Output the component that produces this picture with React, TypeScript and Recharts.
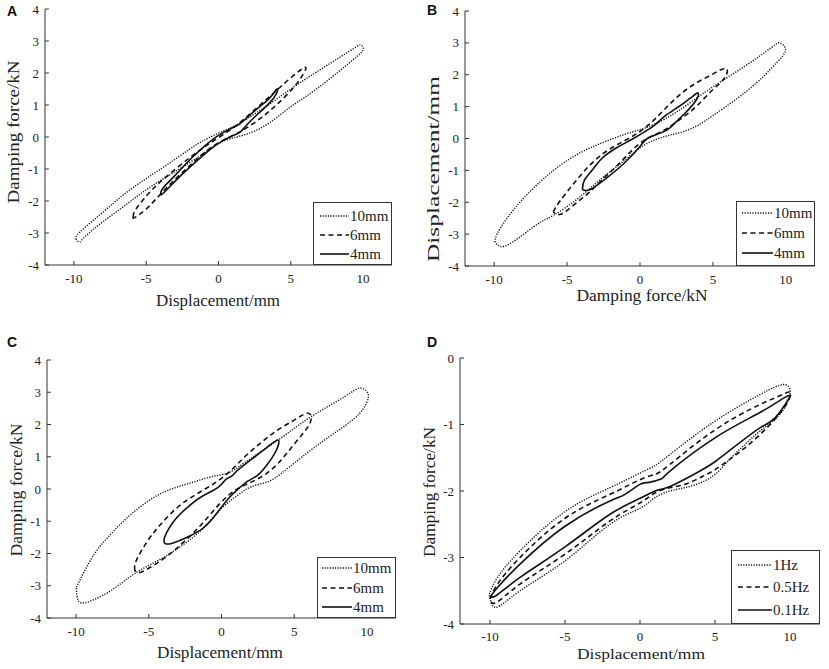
import React from 'react';
import { LineChart, Line, XAxis, YAxis } from 'recharts';

const SERIF = '"Liberation Serif", "Times New Roman", serif';
const SANS = '"Liberation Sans", Arial, sans-serif';
const INK = '#222';
const AXIS = '#333';

// ---------- shared ticks & labels ----------
const xTicks = [-10, -5, 0, 5, 10];
const yTicksABC = [-4, -3, -2, -1, 0, 1, 2, 3, 4];
const yTicksD = [-4, -3, -2, -1, 0];
const ampLabels = ['10mm', '6mm', '4mm'];
const freqLabels = ['1Hz', '0.5Hz', '0.1Hz'];

// ---------- Panel A (loops: upper branch left->right, lower branch right->left) ----------
const A_10mm = [[-9.85,-3.2],[-9.6,-2.98],[-8,-2.35],[-6.5,-1.78],[-5,-1.3],[-3.5,-0.85],[-2,-0.38],[-1,-0.1],[0,0.12],[1,0.32],[2,0.58],[3.5,1.02],[5,1.5],[6.5,1.95],[8,2.38],[9.3,2.75],[9.8,2.88],[10,2.8],[9.9,2.65],[9,2.3],[7.5,1.75],[6,1.25],[5,0.95],[4,0.6],[3,0.3],[2,0.1],[1,-0.03],[0,-0.2],[-1,-0.5],[-2,-0.8],[-3.5,-1.22],[-5,-1.65],[-6.5,-2.15],[-8,-2.65],[-9.2,-3.1],[-9.6,-3.28],[-9.85,-3.2]];
const A_6mm = [[-5.9,-2.5],[-5.7,-2.25],[-4.7,-1.7],[-3.5,-1.2],[-2,-0.65],[-1,-0.32],[0,-0.02],[1,0.28],[2,0.65],[3,1.05],[4,1.45],[5,1.85],[5.95,2.17],[5.9,2.0],[5.2,1.55],[4,1.0],[3,0.62],[2,0.3],[1,0.05],[0,-0.18],[-1,-0.5],[-2,-0.9],[-3,-1.32],[-4,-1.78],[-5,-2.25],[-5.8,-2.52],[-5.9,-2.5]];
const A_4mm = [[-4,-1.8],[-3.85,-1.6],[-3,-1.2],[-2,-0.72],[-1,-0.3],[0,0.05],[1,0.3],[1.5,0.42],[2.2,0.7],[3,1.0],[3.6,1.25],[4.05,1.5],[4,1.35],[3.5,1.05],[2.8,0.75],[2,0.4],[1.5,0.15],[1,0.05],[0,-0.2],[-1,-0.55],[-2,-0.95],[-3,-1.38],[-3.8,-1.75],[-4,-1.8]];

// ---------- Panel B ----------
const B_10mm = [[-9.95,-3.25],[-9.8,-3.0],[-9.1,-2.49],[-8,-1.88],[-6.8,-1.34],[-5.7,-0.92],[-4.5,-0.55],[-3.4,-0.29],[-2.3,-0.08],[-1.1,0.12],[0,0.28],[1,0.45],[2.6,0.86],[4.9,1.59],[7.2,2.27],[9,2.85],[9.6,3.0],[9.95,2.85],[9.8,2.6],[9,2.2],[8,1.75],[6.5,1.2],[5,0.72],[4,0.42],[3,0.22],[2,0.1],[1,-0.05],[0,-0.29],[-1.1,-0.7],[-2.3,-1.13],[-3.4,-1.55],[-4.5,-1.97],[-5.9,-2.4],[-6.8,-2.62],[-8,-3.01],[-9.3,-3.38],[-9.95,-3.25]];
const B_6mm = [[-5.95,-2.3],[-5.5,-1.97],[-4.5,-1.39],[-3.4,-0.82],[-2.3,-0.4],[-1.1,-0.08],[0,0.22],[1,0.6],[2.2,1.15],[3.5,1.64],[4.9,2.0],[5.9,2.2],[5.8,1.9],[4.9,1.49],[3.75,0.96],[2.6,0.55],[1.5,0.22],[0.5,0.0],[-0.5,-0.35],[-1.5,-0.82],[-2.5,-1.25],[-3.5,-1.7],[-4.5,-2.07],[-5.45,-2.38],[-5.95,-2.3]];
const B_4mm = [[-3.95,-1.6],[-3.8,-1.3],[-3.2,-0.95],[-2.6,-0.62],[-1.6,-0.29],[-0.45,0.0],[0.45,0.25],[1,0.42],[1.7,0.7],[2.6,0.98],[3.5,1.28],[3.98,1.43],[3.85,1.2],[3.1,0.8],[2.4,0.49],[1.9,0.28],[1.25,0.15],[0.5,0.0],[0,-0.25],[-1.14,-0.8],[-2.27,-1.23],[-3.4,-1.6],[-3.95,-1.6]];

// ---------- Panel C ----------
const C_10mm = [[-9.98,-3.04],[-9.63,-2.73],[-8.72,-2.0],[-7.57,-1.38],[-6.42,-0.86],[-5.28,-0.45],[-4.13,-0.13],[-2.98,0.07],[-1.83,0.23],[-0.69,0.38],[0.46,0.5],[1.6,0.82],[3.9,1.52],[6.19,2.25],[8.49,2.87],[9.5,3.13],[10.05,2.98],[9.98,2.67],[9.17,2.2],[7.34,1.6],[5.5,0.98],[4.13,0.49],[3.21,0.23],[2.06,0.07],[1.15,-0.18],[0,-0.6],[-1.15,-1.17],[-2.52,-1.69],[-4.13,-2.16],[-5.96,-2.62],[-7.57,-3.14],[-9.17,-3.5],[-9.86,-3.45],[-9.98,-3.04]];
const C_6mm = [[-5.96,-2.52],[-5.85,-2.21],[-5.05,-1.59],[-4.13,-1.07],[-2.98,-0.55],[-1.83,-0.19],[-0.69,0.12],[0.46,0.5],[1.6,1.0],[2.75,1.45],[3.9,1.84],[5.05,2.15],[5.96,2.35],[6.08,2.04],[5.05,1.42],[3.9,0.8],[2.75,0.38],[1.6,0.12],[0.46,-0.2],[-0.7,-0.75],[-1.8,-1.3],[-2.98,-1.8],[-4.13,-2.21],[-5.5,-2.57],[-5.96,-2.52]];
const C_4mm = [[-3.9,-1.69],[-3.9,-1.48],[-3.21,-0.96],[-2.29,-0.55],[-1.38,-0.24],[-0.23,0.05],[0.3,0.3],[0.7,0.4],[1.15,0.6],[2.29,1.0],[3.21,1.32],[3.9,1.52],[3.78,1.21],[3.21,0.8],[2.52,0.44],[1.83,0.25],[1.15,0.0],[0.46,-0.3],[-0.23,-0.7],[-1.15,-1.17],[-2.29,-1.48],[-3.44,-1.69],[-3.9,-1.69]];

// ---------- Panel D ----------
const D_1Hz = [[-10.05,-3.55],[-9.5,-3.3],[-8,-2.9],[-5,-2.31],[-2,-1.95],[0,-1.73],[1,-1.62],[2,-1.45],[5,-0.95],[8,-0.55],[9.5,-0.4],[10,-0.47],[9.9,-0.62],[9.3,-0.85],[8,-1.1],[7,-1.3],[6,-1.52],[5,-1.75],[4,-1.88],[3,-1.95],[2,-2.0],[1,-2.1],[0,-2.26],[-2,-2.5],[-5,-3.05],[-8,-3.5],[-9.6,-3.75],[-10.05,-3.55]];
const D_05Hz = [[-10,-3.62],[-9.5,-3.4],[-8,-3.0],[-5,-2.41],[-2,-2.05],[0,-1.83],[1,-1.75],[2,-1.6],[5,-1.08],[8,-0.7],[9.5,-0.55],[10,-0.52],[9.8,-0.68],[9,-0.92],[8,-1.15],[7,-1.35],[6,-1.52],[5,-1.68],[4,-1.8],[3,-1.9],[2,-1.95],[1,-2.03],[0,-2.18],[-2,-2.45],[-5,-2.95],[-8,-3.4],[-9.6,-3.68],[-10,-3.62]];
const D_01Hz = [[-10,-3.6],[-9.5,-3.45],[-8,-3.1],[-5,-2.53],[-2,-2.15],[-1,-2.05],[0,-1.9],[0.6,-1.87],[1.4,-1.82],[2,-1.7],[5,-1.2],[8,-0.82],[9.6,-0.6],[10,-0.56],[9.9,-0.62],[9,-0.9],[8,-1.05],[6.5,-1.3],[5,-1.56],[4,-1.7],[2.5,-1.88],[1.5,-1.97],[1,-2.0],[0,-2.11],[-2,-2.35],[-5,-2.84],[-8,-3.3],[-9.5,-3.56],[-10,-3.6]];

const toPts = (a: number[][]) => a.map(([x, y]) => ({ x, y }));

const LINE_STYLES = [
  { dash: '1.2 1.4', width: 1.4 },
  { dash: '5 3.5', width: 1.6 },
  { dash: undefined as string | undefined, width: 1.6 },
];

type PanelCfg = {
  key: string;
  box: { left: number; top: number; width: number; height: number };
  plot: { l: number; t: number; r: number; b: number };
  yDomain: [number, number];
  yTicks: number[];
  xTickMargin: number;
  series: number[][][];
  names: string[];
  xTitle: { text: string; cx: number; base: number; len: number; size: number };
  yTitle: { text: string; cx: number; cy: number; len: number };
  letter: { x: number; base: number };
  legend: { x: number; y: number; w: number; h: number; rows: number[]; lx1: number; lx2: number; tx: number };
};

const panels: PanelCfg[] = [
  {
    key: 'A',
    box: { left: 0, top: 0, width: 414, height: 330 },
    plot: { l: 45, t: 9, r: 392, b: 265 },
    yDomain: [-4, 4], yTicks: yTicksABC, xTickMargin: 13,
    series: [A_10mm, A_6mm, A_4mm], names: ampLabels,
    xTitle: { text: 'Displacement/mm', cx: 218, base: 306, len: 124, size: 16 },
    yTitle: { text: 'Damping force/kN', cx: 14, cy: 132, len: 143 },
    letter: { x: 7, base: 16 },
    legend: { x: 313, y: 202, w: 79, h: 63, rows: [216, 235, 254], lx1: 320, lx2: 349, tx: 350 },
  },
  {
    key: 'B',
    box: { left: 414, top: 0, width: 415, height: 330 },
    plot: { l: 465, t: 11, r: 815, b: 266 },
    yDomain: [-4, 4], yTicks: yTicksABC, xTickMargin: 13,
    series: [B_10mm, B_6mm, B_4mm], names: ampLabels,
    xTitle: { text: 'Damping force/kN', cx: 642, base: 301, len: 131, size: 16 },
    yTitle: { text: 'Displacement/mm', cx: 434, cy: 169, len: 186 },
    letter: { x: 427, base: 15 },
    legend: { x: 736, y: 201, w: 79, h: 65, rows: [213, 233, 253], lx1: 742, lx2: 773, tx: 774 },
  },
  {
    key: 'C',
    box: { left: 0, top: 330, width: 414, height: 339 },
    plot: { l: 47, t: 360, r: 396, b: 618 },
    yDomain: [-4, 4], yTicks: yTicksABC, xTickMargin: 13,
    series: [C_10mm, C_6mm, C_4mm], names: ampLabels,
    xTitle: { text: 'Displacement/mm', cx: 220, base: 658, len: 126, size: 16 },
    yTitle: { text: 'Damping force/kN', cx: 17, cy: 490, len: 133 },
    letter: { x: 7, base: 347 },
    legend: { x: 317, y: 557, w: 79, h: 61, rows: [568, 588, 607], lx1: 322, lx2: 352, tx: 353 },
  },
  {
    key: 'D',
    box: { left: 414, top: 330, width: 415, height: 339 },
    plot: { l: 460, t: 358, r: 820, b: 624 },
    yDomain: [-4, 0], yTicks: yTicksD, xTickMargin: 12,
    series: [D_1Hz, D_05Hz, D_01Hz], names: freqLabels,
    xTitle: { text: 'Displacement/mm', cx: 641, base: 659, len: 128, size: 15 },
    yTitle: { text: 'Damping force/kN', cx: 430, cy: 492, len: 130 },
    letter: { x: 427, base: 347 },
    legend: { x: 731, y: 550, w: 89, h: 74, rows: [565, 587, 610], lx1: 738, lx2: 772, tx: 773 },
  },
];

const X_AXIS_H = 40;

function Panel({ cfg }: { cfg: PanelCfg }) {
  const { box, plot } = cfg;
  const margin = {
    top: plot.t - box.top,
    right: box.left + box.width - plot.r,
    bottom: box.top + box.height - plot.b - X_AXIS_H,
    left: 0,
  };
  const tickFont = { fill: INK, fontSize: 13, fontFamily: SERIF };
  return (
    <div style={{ position: 'absolute', left: box.left, top: box.top }}>
      <LineChart width={box.width} height={box.height} margin={margin}>
        <XAxis
          xAxisId="b" type="number" dataKey="x" domain={[-12, 12]} allowDataOverflow
          ticks={xTicks} interval={0} height={X_AXIS_H}
          tickSize={-4} tickMargin={cfg.xTickMargin} tick={tickFont}
          axisLine={{ stroke: AXIS }} tickLine={{ stroke: AXIS }}
        />
        <XAxis
          xAxisId="t" orientation="top" type="number" dataKey="x" domain={[-12, 12]} allowDataOverflow
          ticks={xTicks} interval={0} height={0} tick={false} tickSize={-4}
          axisLine={{ stroke: AXIS }} tickLine={{ stroke: AXIS }}
        />
        <YAxis
          yAxisId="l" type="number" dataKey="y" domain={cfg.yDomain} allowDataOverflow
          ticks={cfg.yTicks} interval={0} width={plot.l - box.left}
          tickSize={-4} tickMargin={10} tick={tickFont}
          axisLine={{ stroke: AXIS }} tickLine={{ stroke: AXIS }}
        />
        <YAxis
          yAxisId="r" orientation="right" type="number" dataKey="y" domain={cfg.yDomain} allowDataOverflow
          ticks={cfg.yTicks} interval={0} width={0} tick={false} tickSize={-4}
          axisLine={{ stroke: AXIS }} tickLine={{ stroke: AXIS }}
        />
        {cfg.series.map((s, i) => (
          <Line
            key={cfg.names[i]}
            xAxisId="b" yAxisId="l"
            data={toPts(s)} dataKey="y" name={cfg.names[i]}
            type="natural" stroke="#111" strokeWidth={LINE_STYLES[i].width}
            strokeDasharray={LINE_STYLES[i].dash}
            dot={false} activeDot={false} isAnimationActive={false}
          />
        ))}
      </LineChart>
    </div>
  );
}

function Overlay() {
  return (
    <svg width={829} height={669} style={{ position: 'absolute', left: 0, top: 0, pointerEvents: 'none' }}>
      {panels.map((p) => (
        <g key={p.key}>
          <text x={p.letter.x} y={p.letter.base} fontFamily={SANS} fontWeight="bold" fontSize={14} fill="#111">{p.key}</text>
          <text x={p.xTitle.cx} y={p.xTitle.base} textAnchor="middle" fontFamily={SERIF} fontSize={p.xTitle.size} fill={INK}
            textLength={p.xTitle.len} lengthAdjust="spacingAndGlyphs">{p.xTitle.text}</text>
          <text x={p.yTitle.cx} y={p.yTitle.cy} dy="0.33em" textAnchor="middle" fontFamily={SERIF} fontSize={16} fill={INK}
            transform={`rotate(-90 ${p.yTitle.cx} ${p.yTitle.cy})`}
            textLength={p.yTitle.len} lengthAdjust="spacingAndGlyphs">{p.yTitle.text}</text>
          <rect x={p.legend.x + 0.5} y={p.legend.y + 0.5} width={p.legend.w - 1} height={p.legend.h - 1} fill="#fff" stroke={AXIS} strokeWidth={1} />
          {p.names.map((n, i) => (
            <g key={n}>
              <line x1={p.legend.lx1} x2={p.legend.lx2} y1={p.legend.rows[i]} y2={p.legend.rows[i]}
                stroke="#111" strokeWidth={LINE_STYLES[i].width} strokeDasharray={LINE_STYLES[i].dash} />
              <text x={p.legend.tx} y={p.legend.rows[i] + 5} fontFamily={SERIF} fontSize={15} fill={INK}>{n}</text>
            </g>
          ))}
        </g>
      ))}
    </svg>
  );
}

export default function App() {
  return (
    <div style={{ position: 'absolute', left: 0, top: 0, width: 829, height: 669, background: '#fff', overflow: 'hidden' }}>
      {panels.map((p) => (
        <Panel key={p.key} cfg={p} />
      ))}
      <Overlay />
    </div>
  );
}
